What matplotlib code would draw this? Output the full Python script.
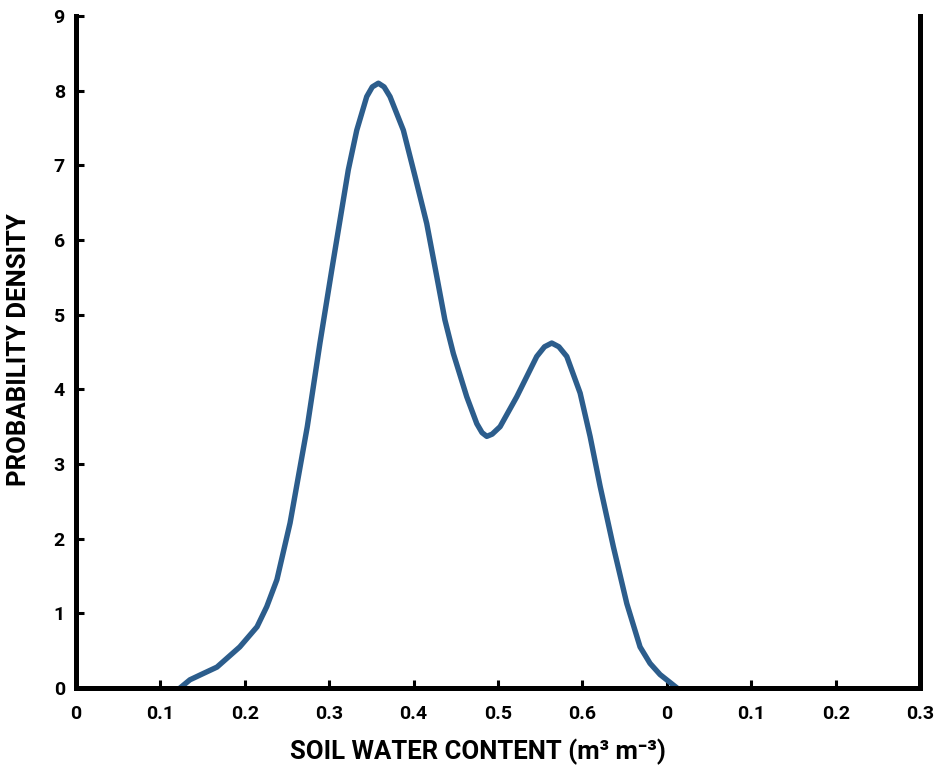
import numpy as np
import matplotlib
matplotlib.use("Agg")
import matplotlib.pyplot as plt

plt.rcParams['font.family'] = ['Roboto', 'DejaVu Sans']

# Density curve (x in m3 m-3, y = probability density)
swc = [0.1232, 0.135, 0.150, 0.167, 0.194, 0.2145, 0.226, 0.238, 0.2536, 0.274, 0.289,
       0.303, 0.3128, 0.3226, 0.3326, 0.3444, 0.351, 0.3582, 0.365, 0.372, 0.3878,
       0.4017, 0.4155, 0.4274, 0.437, 0.447, 0.4629, 0.4748, 0.481, 0.4866, 0.493,
       0.5024, 0.5221, 0.5458, 0.555, 0.5636, 0.572, 0.5814, 0.5972, 0.609, 0.6209,
       0.6366, 0.6525, 0.6682, 0.680, 0.6919, 0.712]
density = [0.0, 0.11, 0.19, 0.28, 0.55, 0.82, 1.09, 1.45, 2.21, 3.50, 4.62,
           5.60, 6.27, 6.94, 7.47, 7.92, 8.05, 8.10, 8.05, 7.92, 7.47,
           6.85, 6.22, 5.51, 4.93, 4.48, 3.90, 3.54, 3.42, 3.37, 3.40,
           3.50, 3.90, 4.44, 4.57, 4.62, 4.57, 4.44, 3.95, 3.37, 2.70,
           1.89, 1.13, 0.55, 0.33, 0.18, 0.0]

xticks = np.round(np.arange(0, 1.01, 0.1), 1)
xticklabels = ['0', '0.1', '0.2', '0.3', '0.4', '0.5', '0.6', '0', '0.1', '0.2', '0.3']
yticks = list(range(0, 10))

fig = plt.figure(figsize=(9.38, 7.72), dpi=100)
ax = fig.add_axes([0.081, 0.1088, 0.9, 0.8705])

ax.plot(swc, density, color='#2c5d8c', linewidth=3.9, solid_capstyle='round',
        solid_joinstyle='round')

ax.set_xlim(0, 1.0)
ax.set_ylim(0, 9)
ax.set_xticks(xticks)
ax.set_xticklabels(xticklabels)
ax.set_yticks(yticks)

ax.spines['top'].set_visible(False)
for s in ['left', 'bottom', 'right']:
    ax.spines[s].set_linewidth(3.6)
    ax.spines[s].set_color('black')

ax.tick_params(direction='in', length=6, width=2.2, labelsize=14, colors='black')
ax.tick_params(axis='x', pad=12)
ax.tick_params(axis='y', pad=8)
for lab in ax.get_xticklabels() + ax.get_yticklabels():
    lab.set_fontweight('bold')

ax.set_xlabel('SOIL WATER CONTENT (m\u00b3 m\u207b\u00b3)', fontsize=18.5, fontweight='bold')
ax.set_ylabel('PROBABILITY DENSITY', fontsize=18.5, fontweight='bold')
ax.xaxis.set_label_coords(0.476, -0.075)
ax.yaxis.set_label_coords(-0.053, 0.503)

fig.savefig('out.png', dpi=100)
